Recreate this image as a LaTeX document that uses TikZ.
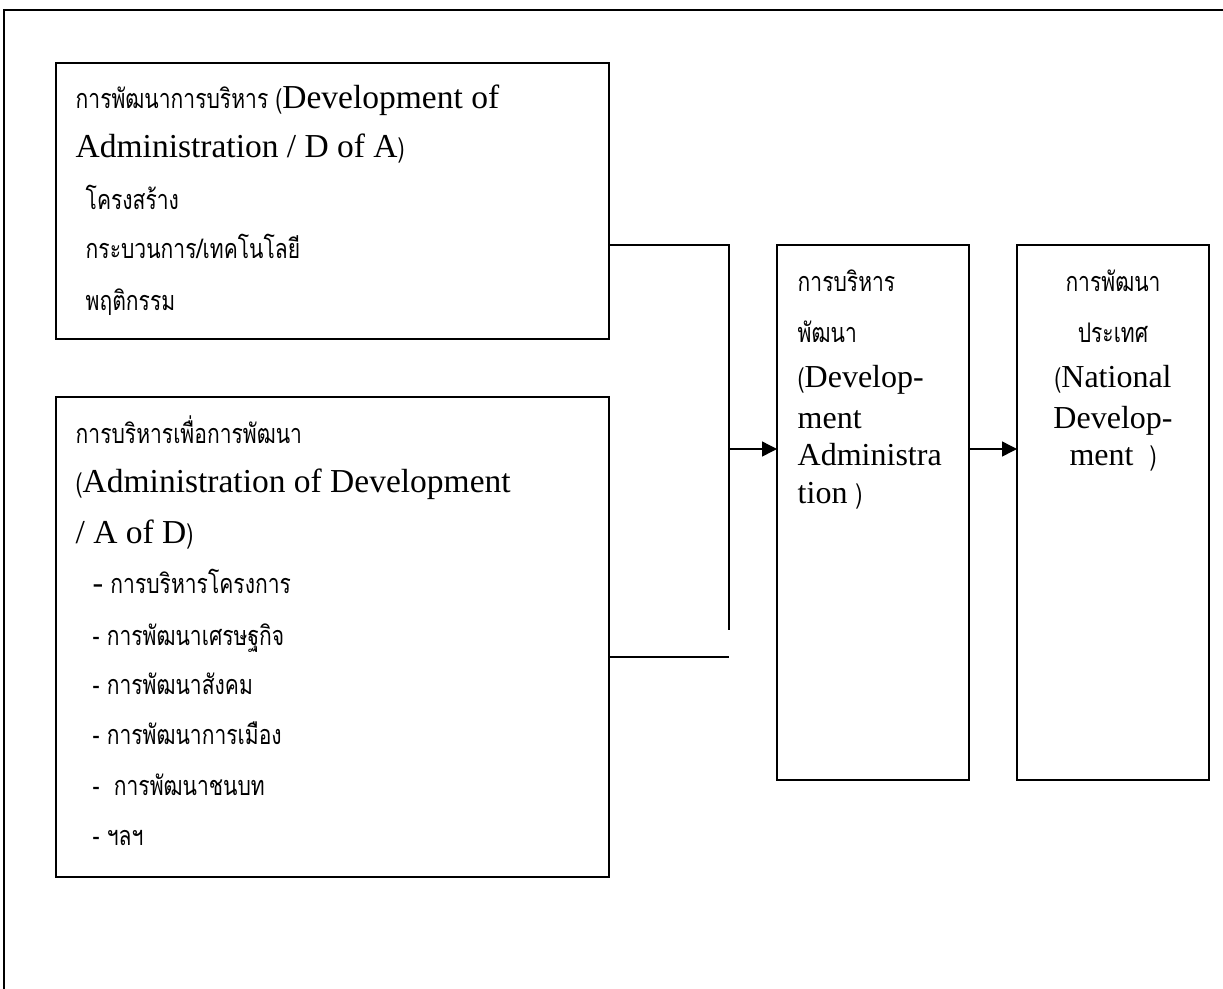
\documentclass[tikz,border=0pt]{standalone}
\usepackage{fontspec}
\setmainfont{Liberation Serif}
\newfontfamily\thaifont[Script=Thai,FakeStretch=0.78]{Loma}
\usetikzlibrary{arrows.meta}
\newcommand{\tha}{\thaifont\fontsize{27}{32}\selectfont}
\newcommand{\engL}{\rmfamily\fontsize{33.5}{40}\selectfont}
\newcommand{\engS}{\rmfamily\fontsize{32}{38}\selectfont}

\begin{document}
\begin{tikzpicture}[x=1pt, y=-1pt, line width=1.4pt, >={Triangle[length=15pt,width=15pt]},
    box/.style={draw, anchor=north west, inner sep=0pt, outer sep=0pt},
    txt/.style={anchor=base west, inner sep=0pt}]
    \useasboundingbox (0,0) rectangle (1223,988);
    % outer frame
    \draw[line width=2pt] (4,1100) -- (4,10) -- (1300,10);
    % boxes
    \node[box, minimum width=553pt, minimum height=276pt] (dofa) at (56,63) {};
    \node[box, minimum width=553pt, minimum height=480pt] (aofd) at (56,397) {};
    \node[box, minimum width=192pt, minimum height=535pt] (devadm) at (777,245) {};
    \node[box, minimum width=192pt, minimum height=535pt] (natdev) at (1017,245) {};
    % D of A
    \node[txt] (dofa1) at (75,108) {\tha การพัฒนาการบริหาร (\engL Development of};
    \node[txt] (dofa2) at (75,157) {\engL Administration / D of A\tha)};
    \node[txt] (dofa3) at (85,209) {\tha โครงสร้าง};
    \node[txt] (dofa4) at (85,258) {\tha กระบวนการ/เทคโนโลยี};
    \node[txt] (dofa5) at (85,310) {\tha พฤติกรรม};
    % A of D
    \node[txt] (aofd1) at (75,443) {\tha การบริหารเพื่อการพัฒนา};
    \node[txt] (aofd2) at (75,492) {\tha(\engL Administration of Development};
    \node[txt] (aofd3) at (75,543) {\engL / A of D\tha)};
    \node[txt] (aofd4) at (92,593) {\engS -\tha\ การบริหารโครงการ};
    \node[txt] (aofd5) at (92,645) {\tha - การพัฒนาเศรษฐกิจ};
    \node[txt] (aofd6) at (92,694) {\tha - การพัฒนาสังคม};
    \node[txt] (aofd7) at (92,744) {\tha - การพัฒนาการเมือง};
    \node[txt] (aofd8) at (92,795) {\tha -\ \ การพัฒนาชนบท};
    \node[txt] (aofd9) at (92,845) {\tha - ฯลฯ};
    % development administration
    \node[txt] (dev1) at (797,291) {\tha การบริหาร};
    \node[txt] (dev2) at (797,342) {\tha พัฒนา};
    \node[txt] (dev3) at (797,387) {\tha(\engS Develop-};
    \node[txt] (dev4) at (797,428) {\engS ment};
    \node[txt] (dev5) at (797,465) {\engS Administra};
    \node[txt] (dev6) at (797,503) {\engS tion \tha)};
    % national development
    \node[txt, anchor=base] (nat1) at (1113,291) {\tha การพัฒนา};
    \node[txt, anchor=base] (nat2) at (1113,342) {\tha ประเทศ};
    \node[txt, anchor=base] (nat3) at (1113,387) {\tha(\engS National};
    \node[txt, anchor=base] (nat4) at (1113,428) {\engS Develop-};
    \node[txt, anchor=base] (nat5) at (1113,465) {\engS ment \ \tha)};
    % connectors
    \coordinate (jtop) at (729,245);
    \coordinate (jmid) at (729,449);
    \coordinate (jend) at (729,630);
    \coordinate (jlow) at (729,657);
    \draw (dofa.east |- jtop) -- (jtop) -- (jend);
    \draw (aofd.east |- jlow) -- (jlow);
    \draw[->] (jmid) -- (jmid -| devadm.west);
    \draw[->] (devadm.east |- jmid) -- (natdev.west |- jmid);
\end{tikzpicture}
\end{document}
